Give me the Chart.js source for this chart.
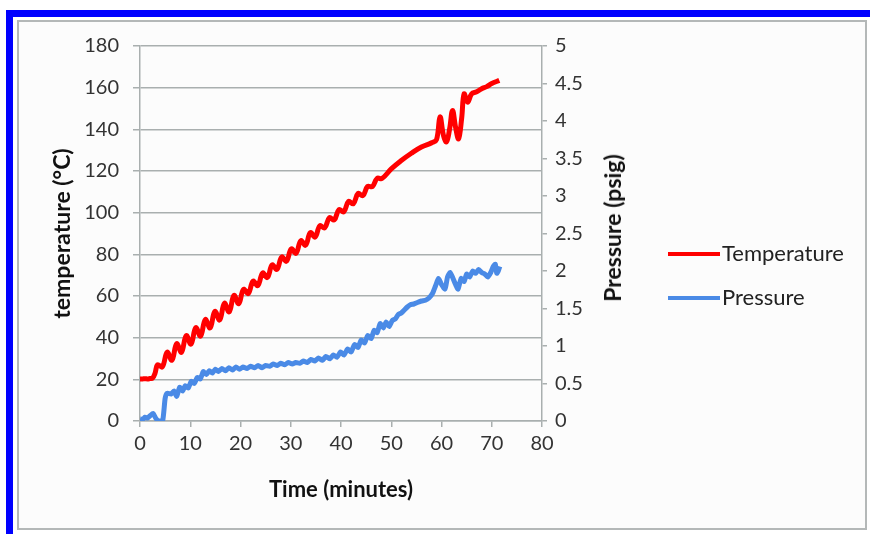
<!DOCTYPE html>
<html>
<head>
<meta charset="utf-8">
<script src="https://cdn.jsdelivr.net/npm/chart.js@4.4.1/dist/chart.umd.min.js"></script>
<style>
    html, body { margin: 0; padding: 0; background: #fff; }
    #frame { position: absolute; left: 6px; top: 10px; width: 864px; height: 524px;
             border-top: 7px solid #0000ff; border-left: 7px solid #0000ff; box-sizing: border-box; }
    #inner { position: absolute; left: 17px; top: 20px; width: 850px; height: 510px;
             border: 2px solid #b4b8b8; background: #fcfcfc; box-sizing: border-box; }
    #wrap { position: absolute; left: 0; top: 0; width: 870px; height: 534px; }
    .lg { position: absolute; left: 668px; font: 22px Lato, sans-serif; color: #222; white-space: nowrap; }
    .lg i { display: inline-block; width: 52px; height: 4px; vertical-align: middle; margin-right: 2px; position: relative; top: -1px; }
    #y2title { position: absolute; left: 612px; top: 228px; transform: translate(-50%, -50%) rotate(-90deg);
               font: bold 23px Lato, sans-serif; color: #111; white-space: nowrap; }
</style>
</head>
<body>
<div id="frame"></div>
<div id="inner"></div>
<div id="wrap"><canvas id="chart" width="870" height="534"></canvas></div>
<div id="y2title">Pressure (psig)</div>
<div class="lg" style="top:239px"><i style="background:#ff0000"></i>Temperature</div>
<div class="lg" style="top:283px"><i style="background:#4a8ae6"></i>Pressure</div>

<script>
// temperature readings (minutes, °C)
const tempTime = [0, 0.5, 1, 1.5, 2, 2.5, 3.0, 3.5, 4.45, 5.4, 6.35, 7.3, 8.25, 9.2, 10.15, 11.1, 12.05, 13.0, 13.95,
    14.9, 15.85, 16.8, 17.75, 18.7, 19.65, 20.6, 21.55, 22.5, 23.45, 24.4, 25.35, 26.3, 27.25, 28.2, 29.15, 30.1,
    31.05, 32.0, 32.95, 33.9, 34.85, 35.8, 36.75, 37.7, 38.65, 39.6, 40.55, 41.5, 42.45, 43.4, 44.35, 45.3, 46.25,
    47.2, 48.15, 50, 52, 54, 56, 58, 59, 59.7, 60.4, 61, 61.6, 62.2, 62.8, 63.4, 64, 64.5, 65.2, 66, 67, 68, 69, 70, 71.5];
const tempValues = [20.2, 20.2, 20.3, 20.2, 20.4, 20.6, 23, 27, 26, 33, 29.2, 37.1, 33.0, 41.0, 36.9, 44.8, 40.8, 48.7,
    44.7, 52.6, 48.5, 56.5, 52.4, 60.3, 56.3, 63.2, 61.2, 67.1, 65.0, 71.0, 68.9, 74.9, 72.8, 78.7, 76.7, 82.6, 80.5,
    86.5, 84.4, 90.4, 88.3, 93.7, 92.7, 97.6, 96.5, 101.5, 100.4, 105.4, 104.3, 109.2, 108.2, 112.6, 112.5, 116.5, 116.4,
    121, 125, 128.5, 131.5, 133.5, 135, 146, 137, 134, 140, 149, 141, 135.5, 145, 157, 153, 157, 158, 159.5, 160.5, 162, 163.5];

// pressure readings (minutes, psig)
const pressTime = [0, 0.5, 1, 1.5, 2, 2.6, 3.2, 3.8, 4.5, 5.0, 5.4, 6.2, 6.8, 7.3, 7.9, 8.5, 9.0, 9.6, 10.2, 10.8, 11.4,
    12.0, 12.6, 13.2, 13.8, 14.4, 15.0, 15.6, 16.3, 17.0, 17.7, 18.4, 19.1, 19.8, 20.5, 21.3, 22.0, 22.8, 23.5, 24.3,
    25.0, 25.8, 26.5, 27.3, 28.0, 28.8, 29.5, 30.3, 31.0, 31.8, 32.5, 33.3, 34.0, 34.8, 35.5, 36.3, 37.0, 37.8, 38.5,
    39.2, 39.9, 40.6, 41.3, 42.0, 42.7, 43.4, 44.0, 44.7, 45.3, 46.0, 46.6, 47.2, 47.8, 48.4, 49.0, 49.6, 50.2, 50.8,
    51.4, 52.0, 52.6, 53.2, 53.8, 54.5, 55.2, 56.0, 56.8, 57.5, 58.2, 58.8, 59.4, 60.0, 60.7, 61.2, 61.7, 62.3, 62.8,
    63.3, 63.9, 64.5, 65.0, 65.6, 66.2, 66.8, 67.4, 68.0, 68.6, 69.2, 69.8, 70.3, 70.7, 71.0, 71.3, 71.6];
const pressValues = [0.03, 0.02, 0.05, 0.04, 0.07, 0.10, 0.03, 0.0, 0.0, 0.30, 0.37, 0.36, 0.40, 0.33, 0.45, 0.40, 0.47,
    0.44, 0.53, 0.50, 0.58, 0.56, 0.66, 0.62, 0.67, 0.64, 0.69, 0.66, 0.70, 0.67, 0.71, 0.68, 0.72, 0.69, 0.72, 0.70,
    0.73, 0.71, 0.74, 0.71, 0.74, 0.73, 0.76, 0.74, 0.77, 0.75, 0.78, 0.76, 0.78, 0.77, 0.80, 0.78, 0.82, 0.80, 0.84,
    0.81, 0.86, 0.83, 0.88, 0.85, 0.92, 0.88, 0.96, 0.92, 1.02, 0.98, 1.08, 1.04, 1.14, 1.10, 1.21, 1.18, 1.30, 1.24,
    1.32, 1.26, 1.34, 1.36, 1.42, 1.44, 1.48, 1.52, 1.55, 1.56, 1.58, 1.60, 1.61, 1.64, 1.70, 1.80, 1.90, 1.82, 1.76,
    1.92, 1.98, 1.90, 1.82, 1.76, 1.90, 1.86, 1.96, 1.92, 2.00, 1.97, 2.02, 1.98, 1.96, 1.92, 1.98, 2.06, 2.09, 1.97,
    2.00, 2.06];

const xTicks = [0, 10, 20, 30, 40, 50, 60, 70, 80];
const tempTicks = [0, 20, 40, 60, 80, 100, 120, 140, 160, 180];
const pressTicks = [0, 0.5, 1, 1.5, 2, 2.5, 3, 3.5, 4, 4.5, 5];

const gridColor = '#a9afaf';
const tickFont = { family: 'Lato', size: 20 };

new Chart(document.getElementById('chart'), {
    type: 'line',
    data: {
        datasets: [
            {
                label: 'Temperature',
                data: tempTime.map((t, i) => ({ x: t, y: tempValues[i] })),
                borderColor: '#ff0000',
                borderWidth: 5,
                pointRadius: 0,
                tension: 0.4,
                yAxisID: 'y'
            },
            {
                label: 'Pressure',
                data: pressTime.map((t, i) => ({ x: t, y: pressValues[i] })),
                borderColor: '#4a8ae6',
                borderWidth: 5,
                pointRadius: 0,
                tension: 0.2,
                yAxisID: 'y2'
            }
        ]
    },
    options: {
        responsive: false,
        animation: false,
        layout: { padding: { left: 0, top: 46, right: 268, bottom: 0 } },
        plugins: { legend: { display: false }, tooltip: { enabled: false } },
        scales: {
            x: {
                type: 'linear',
                min: xTicks[0], max: xTicks[xTicks.length - 1],
                afterBuildTicks: s => { s.ticks = xTicks.map(v => ({ value: v })); },
                afterFit: s => { s.height = 113; },
                grid: { drawOnChartArea: false, color: gridColor, lineWidth: 1.5, tickLength: 6 },
                border: { color: gridColor, width: 1.5 },
                ticks: { font: tickFont, color: '#333', padding: 5, maxRotation: 0 },
                title: { display: true, text: 'Time (minutes)', font: { family: 'Lato', size: 22, weight: 'bold' },
                         color: '#111', padding: { top: 0, bottom: 31 } }
            },
            y: {
                position: 'left',
                min: 0, max: 180,
                afterBuildTicks: s => { s.ticks = tempTicks.map(v => ({ value: v })); },
                afterFit: s => { s.width = 140; },
                grid: { color: gridColor, lineWidth: 1.5, tickLength: 7 },
                border: { color: gridColor, width: 1.5 },
                ticks: { font: tickFont, color: '#333', padding: 14 },
                title: { display: true, text: 'temperature (°C)', font: { family: 'Lato', size: 23, weight: 'bold' },
                         color: '#111', padding: { top: 49, bottom: 0 } }
            },
            y2: {
                position: 'right',
                min: 0, max: 5,
                afterBuildTicks: s => { s.ticks = pressTicks.map(v => ({ value: v })); },
                afterFit: s => { s.width = 60; },
                grid: { drawOnChartArea: false, color: gridColor, lineWidth: 1.5, tickLength: 5 },
                border: { color: gridColor, width: 1.5 },
                ticks: { font: tickFont, color: '#333', padding: 8, callback: v => String(v) }
            }
        }
    }
});
</script>
</body>
</html>
